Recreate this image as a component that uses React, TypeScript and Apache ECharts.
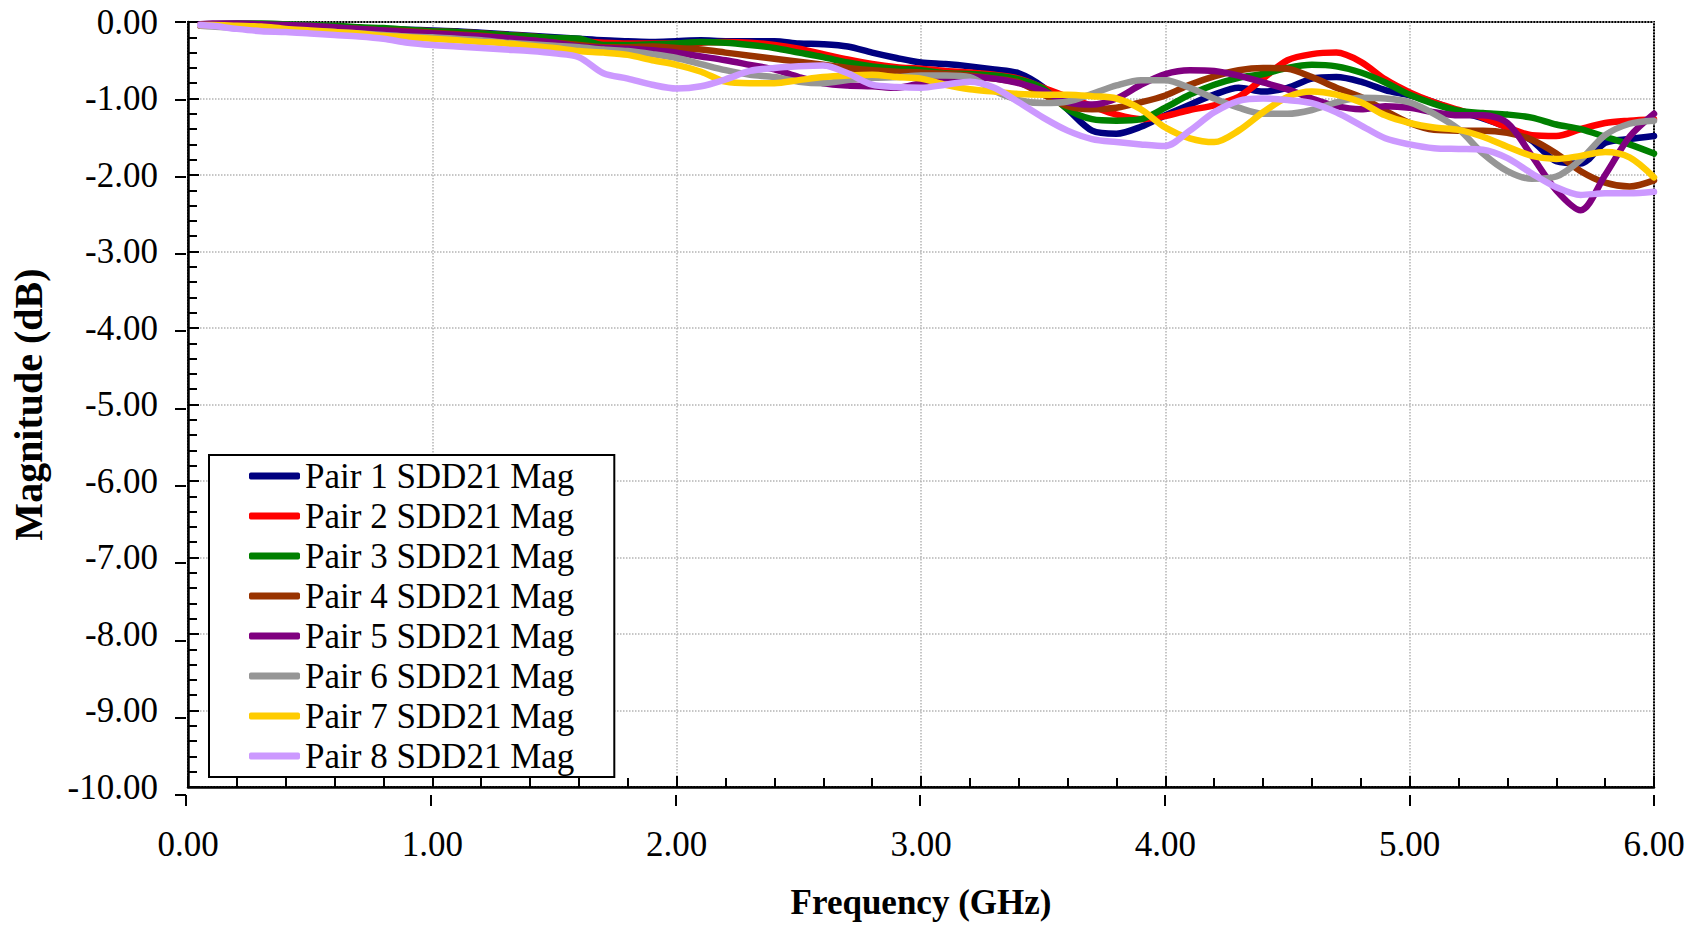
import React, { useEffect, useRef } from "react";
import * as echarts from "echarts";

const FREQ_GHZ = [
  0.05, 0.1, 0.2, 0.3, 0.4, 0.5, 0.6, 0.7, 0.8, 0.9, 1.0,
  1.1, 1.2, 1.3, 1.4, 1.5, 1.6, 1.7, 1.8, 1.9, 2.0,
  2.1, 2.2, 2.3, 2.4, 2.5, 2.6, 2.7, 2.8, 2.9, 3.0,
  3.1, 3.2, 3.3, 3.4, 3.5, 3.6, 3.7, 3.8, 3.9, 4.0,
  4.1, 4.2, 4.3, 4.4, 4.5, 4.6, 4.7, 4.8, 4.9, 5.0,
  5.1, 5.2, 5.3, 5.4, 5.5, 5.6, 5.7, 5.8, 5.9, 6.0,
];

const PAIR1 = [
  -0.03, -0.03, -0.03, -0.03, -0.04, -0.05, -0.06, -0.08, -0.09, -0.10, -0.11,
  -0.12, -0.14, -0.16, -0.18, -0.20, -0.22, -0.24, -0.25, -0.26, -0.25,
  -0.24, -0.25, -0.25, -0.25, -0.28, -0.29, -0.32, -0.40, -0.47, -0.53,
  -0.55, -0.58, -0.62, -0.67, -0.85, -1.14, -1.42, -1.46, -1.37, -1.22,
  -1.08, -0.95, -0.86, -0.91, -0.86, -0.74, -0.72, -0.78, -0.89, -0.96,
  -1.05, -1.17, -1.26, -1.38, -1.55, -1.82, -1.85, -1.58, -1.53, -1.49,
];
const PAIR2 = [
  -0.05, -0.04, -0.04, -0.04, -0.05, -0.06, -0.07, -0.08, -0.10, -0.11, -0.12,
  -0.13, -0.15, -0.17, -0.19, -0.22, -0.25, -0.27, -0.28, -0.28, -0.28,
  -0.27, -0.26, -0.27, -0.30, -0.35, -0.42, -0.49, -0.55, -0.59, -0.61,
  -0.64, -0.66, -0.69, -0.74, -0.86, -0.98, -1.10, -1.21, -1.27, -1.23,
  -1.15, -1.09, -0.98, -0.74, -0.50, -0.42, -0.40, -0.52, -0.75, -0.92,
  -1.05, -1.15, -1.25, -1.38, -1.48, -1.49, -1.40, -1.32, -1.29, -1.27,
];
const PAIR3 = [
  -0.04, -0.03, -0.02, -0.02, -0.03, -0.04, -0.05, -0.07, -0.08, -0.10, -0.12,
  -0.13, -0.15, -0.17, -0.19, -0.21, -0.22, -0.30, -0.30, -0.29, -0.28,
  -0.26, -0.27, -0.30, -0.34, -0.40, -0.46, -0.53, -0.58, -0.61, -0.63,
  -0.67, -0.68, -0.70, -0.75, -0.87, -1.14, -1.27, -1.29, -1.27, -1.12,
  -0.95, -0.82, -0.73, -0.68, -0.60, -0.56, -0.58, -0.66, -0.79, -0.95,
  -1.07, -1.16, -1.19, -1.21, -1.25, -1.34, -1.40, -1.50, -1.60, -1.72,
];
const PAIR4 = [
  -0.04, -0.04, -0.04, -0.05, -0.06, -0.07, -0.08, -0.09, -0.11, -0.12, -0.14,
  -0.16, -0.18, -0.21, -0.24, -0.27, -0.30, -0.33, -0.33, -0.32, -0.34,
  -0.36, -0.40, -0.44, -0.48, -0.52, -0.56, -0.60, -0.63, -0.65, -0.66,
  -0.68, -0.70, -0.74, -0.79, -0.95, -1.10, -1.14, -1.12, -1.05, -0.96,
  -0.82, -0.71, -0.63, -0.60, -0.61, -0.72, -0.86, -0.98, -1.16, -1.32,
  -1.41, -1.42, -1.42, -1.45, -1.54, -1.72, -1.95, -2.10, -2.15, -2.07,
];
const PAIR5 = [
  -0.03, -0.02, -0.02, -0.03, -0.04, -0.05, -0.07, -0.09, -0.11, -0.13, -0.15,
  -0.17, -0.19, -0.21, -0.24, -0.27, -0.32, -0.34, -0.35, -0.37, -0.40,
  -0.45, -0.50, -0.56, -0.62, -0.72, -0.80, -0.83, -0.84, -0.86, -0.80,
  -0.74, -0.72, -0.74, -0.80, -0.90, -1.05, -1.08, -1.00, -0.82, -0.68,
  -0.63, -0.64, -0.70, -0.79, -0.88, -1.00, -1.10, -1.14, -1.10, -1.12,
  -1.18, -1.22, -1.22, -1.32, -1.75, -2.20, -2.46, -2.00, -1.50, -1.20,
];
const PAIR6 = [
  -0.05, -0.06, -0.08, -0.09, -0.10, -0.12, -0.13, -0.15, -0.17, -0.19, -0.20,
  -0.22, -0.24, -0.27, -0.29, -0.31, -0.33, -0.36, -0.38, -0.42, -0.47,
  -0.55, -0.63, -0.69, -0.72, -0.78, -0.80, -0.76, -0.73, -0.72, -0.70,
  -0.70, -0.72, -0.90, -1.02, -1.06, -1.04, -0.94, -0.83, -0.76, -0.76,
  -0.86, -1.00, -1.12, -1.20, -1.20, -1.15, -1.05, -0.99, -1.00, -1.05,
  -1.20, -1.40, -1.72, -1.95, -2.05, -2.02, -1.80, -1.48, -1.33, -1.29,
];
const PAIR7 = [
  -0.04, -0.04, -0.05, -0.06, -0.09, -0.11, -0.13, -0.15, -0.18, -0.20, -0.22,
  -0.24, -0.26, -0.28, -0.31, -0.34, -0.38, -0.40, -0.43, -0.50, -0.56,
  -0.65, -0.78, -0.80, -0.80, -0.76, -0.72, -0.70, -0.69, -0.72, -0.74,
  -0.82, -0.88, -0.91, -0.94, -0.95, -0.95, -0.97, -1.00, -1.14, -1.38,
  -1.52, -1.57, -1.42, -1.18, -0.98, -0.91, -0.95, -1.05, -1.22, -1.32,
  -1.38, -1.41, -1.50, -1.63, -1.75, -1.79, -1.75, -1.70, -1.77, -2.03,
];
const PAIR8 = [
  -0.04, -0.05, -0.09, -0.12, -0.13, -0.15, -0.17, -0.19, -0.22, -0.27, -0.30,
  -0.32, -0.34, -0.36, -0.38, -0.41, -0.46, -0.67, -0.74, -0.82, -0.87,
  -0.84, -0.75, -0.64, -0.60, -0.58, -0.57, -0.67, -0.82, -0.85, -0.86,
  -0.82, -0.78, -0.86, -1.05, -1.25, -1.42, -1.53, -1.57, -1.60, -1.62,
  -1.42, -1.18, -1.03, -1.00, -1.02, -1.06, -1.18, -1.35, -1.52, -1.60,
  -1.65, -1.66, -1.67, -1.78, -1.98, -2.16, -2.26, -2.24, -2.24, -2.22,
];

const SERIES_NAMES = [
  "Pair 1 SDD21 Mag",
  "Pair 2 SDD21 Mag",
  "Pair 3 SDD21 Mag",
  "Pair 4 SDD21 Mag",
  "Pair 5 SDD21 Mag",
  "Pair 6 SDD21 Mag",
  "Pair 7 SDD21 Mag",
  "Pair 8 SDD21 Mag",
];
const SERIES_VALUES = [PAIR1, PAIR2, PAIR3, PAIR4, PAIR5, PAIR6, PAIR7, PAIR8];
const SERIES_COLORS = [
  "#000080", "#ff0000", "#008000", "#993300",
  "#800080", "#969696", "#ffcc00", "#cc99ff",
];

const FONT = "'Liberation Serif', 'Times New Roman', serif";

const GRID_RECT = { left: 186, top: 22, right: 44, bottom: 130 };

export default function App() {
  const ref = useRef<HTMLDivElement>(null);

  useEffect(() => {
    if (!ref.current) return;
    const chart = echarts.init(ref.current, undefined, { renderer: "svg" });

    const fmt = (v: number) => v.toFixed(2);
    const labelStyle = { fontFamily: FONT, fontSize: 35, color: "#000" };
    const axisLine = { show: true, onZero: false, lineStyle: { color: "#000", width: 2.5 } };
    const tickLine = { color: "#000", width: 2 };

    const series = SERIES_NAMES.map((name, i) => ({
      name,
      type: "line",
      xAxisIndex: 0,
      yAxisIndex: 0,
      data: FREQ_GHZ.map((f, j) => [f, SERIES_VALUES[i][j]]),
      showSymbol: false,
      symbol: "none",
      smooth: 0.3,
      lineStyle: { color: SERIES_COLORS[i], width: 6.5, cap: "round", join: "round" },
      itemStyle: { color: SERIES_COLORS[i] },
      z: 3 + i,
    }));

    chart.setOption({
      animation: false,
      backgroundColor: "#fff",
      grid: [
        {
          ...GRID_RECT,
          show: true,
          borderColor: "#000",
          borderWidth: 2,
          backgroundColor: "transparent",
        },
        { ...GRID_RECT, show: false },
      ],
      legend: {
        orient: "vertical",
        left: 209,
        top: 455,
        data: SERIES_NAMES,
        icon: "roundRect",
        itemWidth: 51,
        itemHeight: 7,
        itemGap: 4,
        padding: [3, 40, 3, 40],
        borderColor: "#000",
        borderWidth: 2,
        backgroundColor: "#fff",
        selectedMode: false,
        textStyle: { fontFamily: FONT, fontSize: 35, color: "#000", lineHeight: 36 },
      },
      xAxis: [
        {
          gridIndex: 0,
          type: "value",
          min: 0,
          max: 6,
          interval: 1,
          position: "bottom",
          name: "Frequency (GHz)",
          nameLocation: "middle",
          nameGap: 98,
          nameTextStyle: { fontFamily: FONT, fontSize: 35, fontWeight: "bold", color: "#000" },
          axisLine,
          axisTick: { show: true, inside: true, length: 11, lineStyle: tickLine },
          minorTick: { show: true, splitNumber: 5, length: 9, lineStyle: tickLine },
          axisLabel: { ...labelStyle, margin: 40, formatter: fmt },
          splitLine: { show: true, lineStyle: { color: "#b4b4b4", type: "dotted", width: 1.5 } },
        },
        {
          // outward half of the crossing major ticks
          gridIndex: 1,
          type: "value",
          min: 0,
          max: 6,
          interval: 1,
          position: "bottom",
          axisLine: { show: false, onZero: false },
          axisTick: { show: true, inside: false, length: 11, lineStyle: tickLine },
          axisLabel: { show: false },
          splitLine: { show: false },
        },
      ],
      yAxis: [
        {
          gridIndex: 0,
          type: "value",
          min: -10,
          max: 0,
          interval: 1,
          position: "left",
          name: "Magnitude (dB)",
          nameLocation: "middle",
          nameGap: 140,
          nameRotate: 90,
          nameTextStyle: { fontFamily: FONT, fontSize: 40, fontWeight: "bold", color: "#000" },
          axisLine,
          axisTick: { show: true, inside: true, length: 11, lineStyle: tickLine },
          minorTick: { show: true, splitNumber: 5, length: 9, lineStyle: tickLine },
          axisLabel: { ...labelStyle, margin: 30, formatter: fmt },
          splitLine: { show: true, lineStyle: { color: "#b4b4b4", type: "dotted", width: 1.5 } },
        },
        {
          gridIndex: 1,
          type: "value",
          min: -10,
          max: 0,
          interval: 1,
          position: "left",
          axisLine: { show: false, onZero: false },
          axisTick: { show: true, inside: false, length: 11, lineStyle: tickLine },
          axisLabel: { show: false },
          splitLine: { show: false },
        },
      ],
      series,
    });

    return () => chart.dispose();
  }, []);

  return (
    <div
      ref={ref}
      style={{ position: "absolute", left: 0, top: 0, width: 1698, height: 925 }}
    />
  );
}
